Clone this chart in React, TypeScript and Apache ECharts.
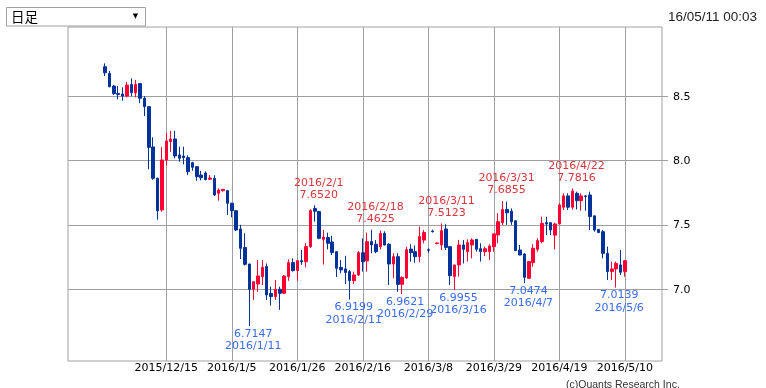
import React, { useEffect, useRef } from "react";
import * as echarts from "echarts";

// ---- data (ZAR/JPY daily, from 2015/11/25) ----
const FIRST_DATE = "2015/11/25";
const openV = [
  8.728, 8.676, 8.578, 8.521, 8.516, 8.5, 8.59, 8.526, 8.597, 8.483,
  8.418, 8.105, 7.862, 7.616, 8.004, 8.146, 8.167, 8.043, 8.035, 8.022,
  7.983, 7.952, 7.887, 7.903, 7.854, 7.862, 7.745, 7.766, 7.766, 7.668,
  7.61, 7.468, 7.325, 7.196, 7.0, 7.041, 7.098, 7.176, 6.968, 6.943,
  7.0, 6.969, 7.098, 7.207, 7.145, 7.222, 7.214, 7.331, 7.628, 7.603,
  7.388, 7.402, 7.367, 7.292, 7.17, 7.158, 7.137, 7.067, 7.111, 7.284,
  7.22, 7.37, 7.35, 7.331, 7.434, 7.35, 7.196, 7.253, 7.038, 7.088,
  7.312, 7.292, 7.253, 7.382, 7.307, 7.452, 7.355, 7.344, 7.468, 7.331,
  7.1, 7.189, 7.344, 7.292, 7.344, 7.388, 7.315, 7.292, 7.292, 7.331,
  7.422, 7.517, 7.62, 7.607, 7.532, 7.305, 7.274, 7.085, 7.207, 7.31,
  7.37, 7.517, 7.517, 7.42, 7.507, 7.637, 7.725, 7.637, 7.745, 7.688,
  7.725, 7.732, 7.57, 7.465, 7.447, 7.279, 7.137, 7.158, 7.189, 7.137,
];
const closeV = [
  8.681, 8.573, 8.521, 8.513, 8.5, 8.586, 8.526, 8.59, 8.483, 8.418,
  8.102, 7.862, 7.61, 8.004, 8.152, 8.167, 8.035, 8.017, 8.022, 7.913,
  7.947, 7.874, 7.866, 7.852, 7.864, 7.732, 7.771, 7.776, 7.668, 7.61,
  7.46, 7.318, 7.194, 7.0, 7.059, 7.103, 7.171, 6.956, 6.943, 7.0,
  6.969, 7.103, 7.207, 7.145, 7.222, 7.212, 7.331, 7.612, 7.606, 7.396,
  7.405, 7.357, 7.285, 7.163, 7.15, 7.13, 7.067, 7.111, 7.284, 7.214,
  7.37, 7.344, 7.292, 7.434, 7.344, 7.196, 7.253, 7.038, 7.092, 7.308,
  7.284, 7.253, 7.409, 7.44, 7.303, 7.448, 7.359, 7.455, 7.325, 7.105,
  7.189, 7.344, 7.31, 7.362, 7.383, 7.31, 7.292, 7.315, 7.336, 7.43,
  7.525, 7.62, 7.594, 7.525, 7.3, 7.266, 7.093, 7.215, 7.318, 7.378,
  7.512, 7.507, 7.46, 7.507, 7.655, 7.725, 7.637, 7.762, 7.688, 7.725,
  7.72, 7.564, 7.46, 7.44, 7.279, 7.137, 7.158, 7.2, 7.132, 7.222,
];
const lowV = [
  8.656, 8.568, 8.508, 8.475, 8.465, 8.49, 8.5, 8.49, 8.445, 8.345,
  7.932, 7.85, 7.54, 7.603, 7.96, 8.068, 8.017, 7.99, 7.97, 7.887,
  7.92, 7.843, 7.846, 7.846, 7.85, 7.725, 7.688, 7.758, 7.577, 7.559,
  7.452, 7.235, 7.184, 6.7147, 6.917, 6.98, 7.033, 6.917, 6.873, 6.917,
  6.84, 6.965, 7.066, 7.137, 7.066, 7.19, 7.17, 7.32, 7.525, 7.388,
  7.192, 7.31, 7.266, 7.095, 7.124, 7.04, 6.9199, 7.04, 7.103, 7.137,
  7.137, 7.28, 7.28, 7.31, 7.34, 7.033, 7.085, 6.98, 6.9621, 7.08,
  7.214, 7.205, 7.21, 7.357, 7.284, 7.44, 7.35, 7.305, 7.305, 7.033,
  6.9955, 7.098, 7.2, 7.215, 7.24, 7.292, 7.215, 7.258, 7.227, 7.292,
  7.357, 7.5, 7.5, 7.5, 7.298, 7.264, 7.0474, 7.083, 7.176, 7.292,
  7.357, 7.42, 7.42, 7.31, 7.505, 7.616, 7.616, 7.62, 7.62, 7.61,
  7.61, 7.46, 7.447, 7.438, 7.24, 7.072, 7.072, 7.0139, 7.111, 7.098,
];
const highV = [
  8.754, 8.695, 8.586, 8.578, 8.568, 8.609, 8.638, 8.626, 8.597, 8.5,
  8.42, 8.18, 7.866, 8.104, 8.215, 8.229, 8.231, 8.107, 8.107, 8.04,
  7.99, 7.957, 7.92, 7.915, 7.887, 7.887, 7.784, 7.778, 7.768, 7.672,
  7.612, 7.5, 7.435, 7.198, 7.06, 7.227, 7.227, 7.2, 7.02, 7.072,
  7.02, 7.111, 7.233, 7.24, 7.227, 7.305, 7.36, 7.62, 7.652, 7.61,
  7.46, 7.44, 7.415, 7.292, 7.228, 7.26, 7.15, 7.137, 7.297, 7.396,
  7.44, 7.4625, 7.383, 7.455, 7.45, 7.357, 7.28, 7.28, 7.1, 7.33,
  7.35, 7.34, 7.486, 7.46, 7.318, 7.462, 7.365, 7.5123, 7.505, 7.331,
  7.19, 7.383, 7.383, 7.388, 7.396, 7.39, 7.357, 7.33, 7.35, 7.434,
  7.59, 7.6855, 7.68, 7.628, 7.534, 7.344, 7.279, 7.217, 7.35, 7.396,
  7.564, 7.564, 7.519, 7.517, 7.667, 7.745, 7.745, 7.7816, 7.758, 7.745,
  7.732, 7.758, 7.572, 7.467, 7.46, 7.331, 7.215, 7.215, 7.305, 7.222,
];

const tickDates = [
  "2015/12/15", "2016/1/5", "2016/1/26", "2016/2/16",
  "2016/3/8", "2016/3/29", "2016/4/19", "2016/5/10",
];
const yTickValues = [7.0, 7.5, 8.0, 8.5];

const highDates = ["2016/2/1", "2016/2/18", "2016/3/11", "2016/3/31", "2016/4/22"];
const highValues = [7.652, 7.4625, 7.5123, 7.6855, 7.7816];
const lowDates = ["2016/1/11", "2016/2/11", "2016/2/29", "2016/3/16", "2016/4/7", "2016/5/6"];
const lowValues = [6.7147, 6.9199, 6.9621, 6.9955, 7.0474, 7.0139];

// label horizontal nudges (style)
const highDx = [4, 4, 5, 4, 4];
const lowDx = [4, 4, 3, 4, 4, 3];

// weekday calendar for the axis (8 empty days each side)
function buildWeekdays(y: number, m: number, d: number, count: number): string[] {
  const out: string[] = [];
  const dt = new Date(Date.UTC(y, m - 1, d));
  while (out.length < count) {
    const wd = dt.getUTCDay();
    if (wd !== 0 && wd !== 6) {
      out.push(`${dt.getUTCFullYear()}/${dt.getUTCMonth() + 1}/${dt.getUTCDate()}`);
    }
    dt.setUTCDate(dt.getUTCDate() + 1);
  }
  return out;
}
const categories = buildWeekdays(2015, 11, 13, 136);

const UP = "#ff0033";
const DOWN = "#003399";
const GRIDC = "#a0a0a0";
const RED_T = "#d8363c";
const BLUE_T = "#3b6cf2";
const FONT = "DejaVu Sans";

export default function App() {
  const ref = useRef<HTMLDivElement>(null);
  useEffect(() => {
    if (!ref.current) return;
    const chart = echarts.init(ref.current, null, { renderer: "svg" });
    const first = categories.indexOf(FIRST_DATE);
    const seriesData = categories.map((_, i) => {
      const k = i - first;
      return k >= 0 && k < openV.length ? [openV[k], closeV[k], lowV[k], highV[k]] : "-";
    });
    const tickSet = new Set(tickDates);

    const markPts: any[] = [];
    highDates.forEach((d, i) => {
      markPts.push({
        coord: [d, highValues[i]],
        label: {
          show: true,
          position: "top",
          distance: 5,
          offset: [highDx[i], 0],
          color: RED_T,
          fontFamily: FONT,
          fontSize: 11,
          lineHeight: 12,
          formatter: `${d}\n${highValues[i].toFixed(4)}`,
        },
      });
    });
    lowDates.forEach((d, i) => {
      markPts.push({
        coord: [d, lowValues[i]],
        label: {
          show: true,
          position: "bottom",
          distance: 1,
          offset: [lowDx[i], 0],
          color: BLUE_T,
          fontFamily: FONT,
          fontSize: 11,
          lineHeight: 12.5,
          formatter: `${lowValues[i].toFixed(4)}\n${d}`,
        },
      });
    });

    chart.setOption({
      animation: false,
      textStyle: { fontFamily: FONT },
      grid: {
        left: 68,
        right: 104,
        top: 27,
        bottom: 27,
        show: true,
        borderColor: GRIDC,
        borderWidth: 1,
        backgroundColor: "transparent",
      },
      xAxis: {
        type: "category",
        data: categories,
        boundaryGap: true,
        axisLine: { show: false },
        axisTick: { show: false },
        splitLine: { show: false },
        axisLabel: {
          interval: (_i: number, v: string) => tickSet.has(v),
          color: "#000",
          fontFamily: FONT,
          fontSize: 11,
          margin: 1,
        },
      },
      yAxis: {
        type: "value",
        position: "right",
        min: 6.443,
        max: 9.0365,
        scale: true,
        axisLine: { show: false },
        axisTick: {
          show: true,
          length: 6,
          customValues: yTickValues,
          lineStyle: { color: GRIDC },
        },
        splitLine: { show: false },
        axisLabel: {
          customValues: yTickValues,
          formatter: (v: number) => v.toFixed(1),
          color: "#000",
          fontFamily: FONT,
          fontSize: 11,
          margin: 11,
        },
      },
      series: [
        {
          type: "candlestick",
          data: seriesData,
          barWidth: 3,
          z: 2,
          itemStyle: {
            color: UP,
            color0: DOWN,
            borderColor: UP,
            borderColor0: DOWN,
            borderWidth: 1,
          },
          markLine: {
            z: 1,
            silent: true,
            symbol: ["none", "none"],
            label: { show: false },
            lineStyle: { color: GRIDC, type: "solid", width: 1 },
            emphasis: { disabled: true },
            data: [
              ...tickDates.map((d) => ({ xAxis: d })),
              ...yTickValues.map((v) => ({ yAxis: v })),
            ],
          },
          markPoint: {
            symbol: "circle",
            symbolSize: 0,
            silent: true,
            itemStyle: { color: "transparent" },
            data: markPts,
          },
        },
      ],
      graphic: [
        {
          type: "rect",
          shape: { x: 6.5, y: 7.5, width: 139, height: 18.5 },
          style: { fill: "#fff", stroke: GRIDC, lineWidth: 1 },
        },
        {
          type: "text",
          x: 11,
          y: 16,
          style: {
            text: "日足",
            font: '13.5px "Noto Sans CJK JP"',
            fill: "#000",
            verticalAlign: "middle",
          },
        },
        {
          type: "text",
          x: 135.5,
          y: 16,
          style: {
            text: "▼",
            font: '7px "DejaVu Sans"',
            fill: "#000",
            align: "center",
            verticalAlign: "middle",
          },
        },
        {
          type: "text",
          x: 757,
          y: 16,
          style: {
            text: "16/05/11 00:03",
            font: '13.5px "Liberation Sans"',
            fill: "#222",
            align: "right",
            verticalAlign: "middle",
          },
        },
        {
          type: "text",
          x: 566,
          y: 378,
          style: {
            text: "(c)Quants Research Inc.",
            font: '10.5px "Liberation Sans"',
            fill: "#333",
            verticalAlign: "top",
          },
        },
      ],
    });
    return () => chart.dispose();
  }, []);
  return (
    <div
      ref={ref}
      style={{ position: "fixed", left: 0, top: 0, width: 766, height: 388 }}
    />
  );
}
